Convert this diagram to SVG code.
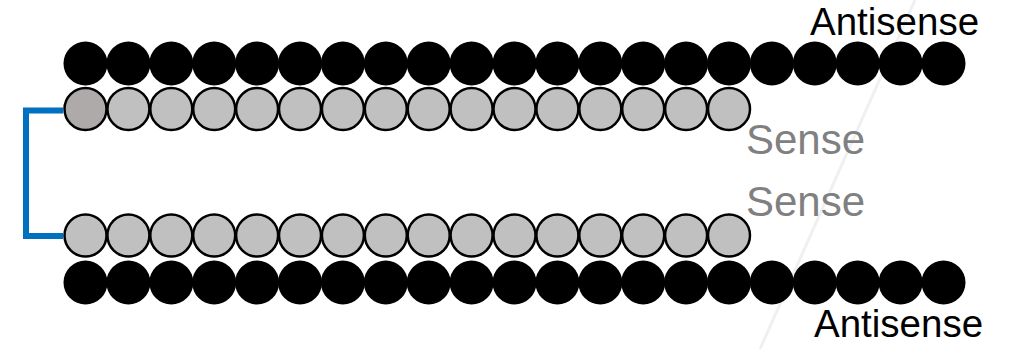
<svg xmlns="http://www.w3.org/2000/svg" width="1020" height="349" viewBox="0 0 1020 349">
<style>
.anti{fill:#000}
.sense{fill:#C0C0C0;stroke:#000;stroke-width:2.5}
.first{fill:#AEAAAA}
.lblA{font-family:"Liberation Sans",Arial,sans-serif;font-size:38.5px;fill:#000}
.lblS{font-family:"Liberation Sans",Arial,sans-serif;font-size:42px;fill:#808080}
</style>
<defs>
<circle id="b" r="22"/>
<circle id="g" r="21"/>
</defs>
<rect width="1020" height="349" fill="#fff"/>
<line x1="915" y1="0" x2="760" y2="349" stroke="#F0F0F0" stroke-width="3"/>
<g id="connectors">
<path d="M63,110.5 H26 V236 H63" fill="none" stroke="#0070C0" stroke-width="6"/>
</g>
<g id="antisense-top" class="anti">
<use href="#b" x="85.5" y="63.5"/><use href="#b" x="128.4" y="63.5"/><use href="#b" x="171.3" y="63.5"/><use href="#b" x="214.2" y="63.5"/><use href="#b" x="257.1" y="63.5"/><use href="#b" x="300" y="63.5"/><use href="#b" x="342.9" y="63.5"/><use href="#b" x="385.8" y="63.5"/><use href="#b" x="428.7" y="63.5"/><use href="#b" x="471.6" y="63.5"/><use href="#b" x="514.5" y="63.5"/><use href="#b" x="557.4" y="63.5"/><use href="#b" x="600.3" y="63.5"/><use href="#b" x="643.2" y="63.5"/><use href="#b" x="686.1" y="63.5"/><use href="#b" x="729" y="63.5"/><use href="#b" x="771.9" y="63.5"/><use href="#b" x="814.8" y="63.5"/><use href="#b" x="857.7" y="63.5"/><use href="#b" x="900.6" y="63.5"/><use href="#b" x="943.5" y="63.5"/>
</g>
<g id="sense-top" class="sense">
<use href="#g" x="85.5" y="109" class="first"/><use href="#g" x="128.4" y="109"/><use href="#g" x="171.3" y="109"/><use href="#g" x="214.2" y="109"/><use href="#g" x="257.1" y="109"/><use href="#g" x="300" y="109"/><use href="#g" x="342.9" y="109"/><use href="#g" x="385.8" y="109"/><use href="#g" x="428.7" y="109"/><use href="#g" x="471.6" y="109"/><use href="#g" x="514.5" y="109"/><use href="#g" x="557.4" y="109"/><use href="#g" x="600.3" y="109"/><use href="#g" x="643.2" y="109"/><use href="#g" x="686.1" y="109"/><use href="#g" x="729" y="109"/>
</g>
<g id="sense-bottom" class="sense">
<use href="#g" x="85.5" y="235.5"/><use href="#g" x="128.4" y="235.5"/><use href="#g" x="171.3" y="235.5"/><use href="#g" x="214.2" y="235.5"/><use href="#g" x="257.1" y="235.5"/><use href="#g" x="300" y="235.5"/><use href="#g" x="342.9" y="235.5"/><use href="#g" x="385.8" y="235.5"/><use href="#g" x="428.7" y="235.5"/><use href="#g" x="471.6" y="235.5"/><use href="#g" x="514.5" y="235.5"/><use href="#g" x="557.4" y="235.5"/><use href="#g" x="600.3" y="235.5"/><use href="#g" x="643.2" y="235.5"/><use href="#g" x="686.1" y="235.5"/><use href="#g" x="729" y="235.5"/>
</g>
<g id="antisense-bottom" class="anti">
<use href="#b" x="85.5" y="282.5"/><use href="#b" x="128.4" y="282.5"/><use href="#b" x="171.3" y="282.5"/><use href="#b" x="214.2" y="282.5"/><use href="#b" x="257.1" y="282.5"/><use href="#b" x="300" y="282.5"/><use href="#b" x="342.9" y="282.5"/><use href="#b" x="385.8" y="282.5"/><use href="#b" x="428.7" y="282.5"/><use href="#b" x="471.6" y="282.5"/><use href="#b" x="514.5" y="282.5"/><use href="#b" x="557.4" y="282.5"/><use href="#b" x="600.3" y="282.5"/><use href="#b" x="643.2" y="282.5"/><use href="#b" x="686.1" y="282.5"/><use href="#b" x="729" y="282.5"/><use href="#b" x="771.9" y="282.5"/><use href="#b" x="814.8" y="282.5"/><use href="#b" x="857.7" y="282.5"/><use href="#b" x="900.6" y="282.5"/><use href="#b" x="943.5" y="282.5"/>
</g>
<g id="labels">
<text class="lblA" x="810" y="35">Antisense</text>
<text class="lblS" x="746" y="154">Sense</text>
<text class="lblS" x="746" y="216">Sense</text>
<text class="lblA" x="814" y="336.5">Antisense</text>
</g>
</svg>
